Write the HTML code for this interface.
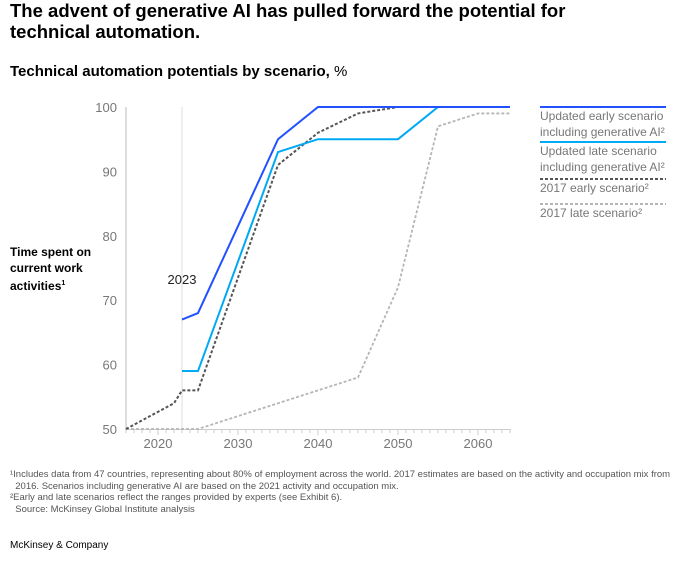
<!DOCTYPE html>
<html><head><meta charset="utf-8"><style>
body{margin:0;background:#fff;font-family:"Liberation Sans",sans-serif;width:679px;height:563px;position:relative;overflow:hidden;color:#000}
.a{position:absolute}
</style></head><body>
<div class="a" style="left:10px;top:0px;font-size:18.5px;font-weight:bold;line-height:21px;width:600px">The advent of generative AI has pulled forward the potential for<br>technical automation.</div>
<div class="a" style="left:10px;top:63px;font-size:15px;font-weight:bold">Technical automation potentials by scenario, <span style="font-weight:normal">%</span></div>
<div class="a" style="left:10px;top:244px;font-size:12px;font-weight:bold;line-height:16px">Time spent on<br>current work<br>activities<sup style="font-size:7px">1</sup></div>
<svg class="a" style="left:0;top:0" width="679" height="563" id="chart"></svg>
<div class="a" style="left:10px;top:469px;font-size:9.5px;color:#555;line-height:11.5px">¹Includes data from 47 countries, representing about 80% of employment across the world. 2017 estimates are based on the activity and occupation mix from<br>&nbsp;&nbsp;2016. Scenarios including generative AI are based on the 2021 activity and occupation mix.<br>²Early and late scenarios reflect the ranges provided by experts (see Exhibit 6).<br>&nbsp;&nbsp;Source: McKinsey Global Institute analysis</div>
<div class="a" style="left:10px;top:540px;font-size:10px">McKinsey &amp; Company</div>
<script>
const xTicks=[2020,2030,2040,2050,2060];
const yTicks=[50,60,70,80,90,100];
const earlyX=[2023,2025,2035,2040,2064];
const earlyY=[67,68,95,100,100];
const lateX=[2023,2025,2035,2040,2050,2055,2064];
const lateY=[59,59,93,95,95,100,100];
const e17X=[2016,2022,2023,2025,2035,2040,2045,2050,2064];
const e17Y=[50,54,56,56,91,96,99,100,100];
const l17X=[2016,2025,2045,2050,2055,2060,2064];
const l17Y=[50,50,58,72,97,99,99];
const legendLabels=[["Updated early scenario","including generative AI²"],["Updated late scenario","including generative AI²"],["2017 early scenario²"],["2017 late scenario²"]];
const X=v=>126+(v-2016)*8;
const Y=v=>429-(v-50)*6.44;
const svg=document.getElementById('chart');
const NS='http://www.w3.org/2000/svg';
function mk(t,at){const e=document.createElementNS(NS,t);for(const k in at)e.setAttribute(k,at[k]);svg.appendChild(e);return e;}
let e=mk('line',{x1:126,x2:126,y1:107,y2:430,stroke:'#ddd','stroke-width':2});


e=mk('line',{x1:126,x2:511,y1:429.5,y2:429.5,stroke:'#ccc','stroke-width':1});


for(let yr=2016;yr<=2064;yr++){e=mk('line',{x1:X(yr),x2:X(yr),y1:429,y2:yr%10==0?435:433,stroke:'#ccc'});

}
xTicks.forEach(t=>{e=mk('text',{x:X(t),y:448,'text-anchor':'middle','font-size':13,fill:'#777','font-family':'Liberation Sans'});e.textContent=t;

});
yTicks.forEach(t=>{e=mk('text',{x:117,y:Y(t)+5,'text-anchor':'end','font-size':13,fill:'#777','font-family':'Liberation Sans'});e.textContent=t;

});
e=mk('line',{x1:X(2023),x2:X(2023),y1:107,y2:429,stroke:'#ddd','stroke-width':1});


e=mk('text',{x:X(2023),y:284,'text-anchor':'middle','font-size':13,fill:'#222','font-family':'Liberation Sans'});e.textContent='2023';


function line(xs,ys,st,dash,w,name){const p=xs.map((x,i)=>X(x)+','+Y(ys[i])).join(' ');
const l=mk('polyline',{points:p,fill:'none',stroke:st,'stroke-width':w});if(dash)l.setAttribute('stroke-dasharray',dash);

}
line(l17X,l17Y,'#b5b5b5','3 2',1.8,'line-2017-late');
line(e17X,e17Y,'#555','3 2',2,'line-2017-early');
line(lateX,lateY,'#00a9f4','',2,'line-updated-late');
line(earlyX,earlyY,'#2251ff','',2,'line-updated-early');
const lc=[['#2251ff',''],['#00a9f4',''],['#555','3 2'],['#b5b5b5','3 2']];
const ly=[107,142,179,204];
legendLabels.forEach((lab,i)=>{e=mk('line',{x1:540,x2:666,y1:ly[i],y2:ly[i],stroke:lc[i][0],'stroke-width':2});if(lc[i][1])e.setAttribute('stroke-dasharray',lc[i][1]);


lab.forEach((s,j)=>{const t=mk('text',{x:540,y:ly[i]+13+j*16,'font-size':12,fill:'#777','font-family':'Liberation Sans'});t.textContent=s;

});});
</script>
</body></html>
